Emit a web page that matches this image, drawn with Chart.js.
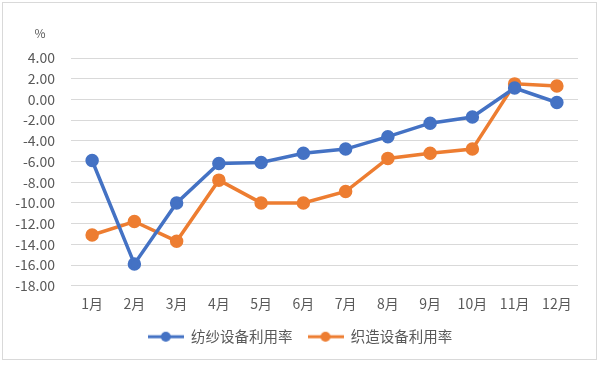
<!DOCTYPE html>
<html>
<head>
<meta charset="utf-8">
<script src="https://cdn.jsdelivr.net/npm/chart.js@4"></script>
<style>
  body { margin: 0; background: #fff; }
  #wrap { position: relative; width: 600px; height: 365px; }
  #frame { position: absolute; left: 2px; top: 2px; width: 593px; height: 356px; border: 1px solid #d9d9d9; pointer-events: none; }
</style>
</head>
<body>
<div id="wrap">
  <canvas id="lineChart" width="600" height="365"></canvas>
  <div id="frame"></div>
</div>
<script>
// months on the x axis
const months = ["1月", "2月", "3月", "4月", "5月", "6月", "7月", "8月", "9月", "10月", "11月", "12月"];

// spinning equipment utilisation change, %
const spinning = [-5.9, -15.9, -10.0, -6.2, -6.1, -5.2, -4.8, -3.6, -2.3, -1.7, 1.1, -0.3];

// weaving equipment utilisation change, %
const weaving = [-13.1, -11.8, -13.7, -7.8, -10.0, -10.0, -8.9, -5.7, -5.2, -4.8, 1.5, 1.3];

const seriesNames = ["纺纱设备利用率", "织造设备利用率"];
const seriesColors = ["#4472C4", "#ED7D31"];

const FONT = "'Noto Sans CJK SC', 'Noto Sans', sans-serif";

// legend marker: short line with a dot in the middle
function legendMark(color) {
  const c = document.createElement("canvas");
  c.width = 36;
  c.height = 12;
  const g = c.getContext("2d");
  g.strokeStyle = color;
  g.lineWidth = 3;
  g.beginPath();
  g.moveTo(0, 6);
  g.lineTo(36, 6);
  g.stroke();
  g.fillStyle = color;
  g.beginPath();
  g.arc(18, 6, 5, 0, Math.PI * 2);
  g.fill();
  return c;
}

// unit label above the y axis
const unitLabel = {
  id: "unitLabel",
  afterDraw(chart) {
    const ctx = chart.ctx;
    ctx.save();
    ctx.font = "12px " + FONT;
    ctx.fillStyle = "#595959";
    ctx.textAlign = "center";
    ctx.textBaseline = "middle";
    ctx.fillText("%", 40, 33);
    ctx.restore();
  },
};

const ctx = document.getElementById("lineChart");

new Chart(ctx, {
  type: "line",
  data: {
    labels: months,
    datasets: [
      {
        label: seriesNames[0],
        data: spinning,
        borderColor: seriesColors[0],
        backgroundColor: seriesColors[0],
        borderWidth: 3.5,
        pointRadius: 5,
        pointHoverRadius: 5,
        pointStyle: "circle",
        tension: 0,
      },
      {
        label: seriesNames[1],
        data: weaving,
        borderColor: seriesColors[1],
        backgroundColor: seriesColors[1],
        borderWidth: 3.5,
        pointRadius: 5,
        pointHoverRadius: 5,
        pointStyle: "circle",
        tension: 0,
      },
    ],
  },
  options: {
    responsive: false,
    animation: false,
    layout: {
      padding: { left: 0, right: 0, top: 58, bottom: 11 },
    },
    scales: {
      x: {
        offset: true,
        grid: { display: false },
        border: { display: false },
        ticks: {
          color: "#595959",
          font: { family: FONT, size: 14 },
          padding: 2,
        },
      },
      y: {
        min: -18,
        max: 4,
        afterFit(scale) {
          scale.width = 71;
        },
        grid: { color: "#d9d9d9", lineWidth: 1, drawTicks: false },
        border: { display: false },
        ticks: {
          stepSize: 2,
          color: "#595959",
          font: { family: FONT, size: 14 },
          padding: 16,
          callback: (v) => v.toFixed(2),
        },
      },
      // empty right-hand axis, keeps the plot clear of the right edge
      yRight: {
        position: "right",
        min: -18,
        max: 4,
        afterFit(scale) {
          scale.width = 22;
        },
        grid: { display: false },
        border: { display: false },
        ticks: { display: false },
      },
    },
    plugins: {
      legend: {
        position: "bottom",
        labels: {
          usePointStyle: true,
          pointStyleWidth: 36,
          color: "#595959",
          font: { family: FONT, size: 14.5 },
          padding: 15,
          generateLabels(chart) {
            return chart.data.datasets.map((ds, i) => ({
              text: ds.label,
              pointStyle: legendMark(ds.borderColor),
              fontColor: "#595959",
              strokeStyle: ds.borderColor,
              fillStyle: ds.borderColor,
              lineWidth: 0,
              datasetIndex: i,
            }));
          },
        },
      },
      tooltip: { enabled: false },
    },
  },
  plugins: [unitLabel],
});
</script>
</body>
</html>
